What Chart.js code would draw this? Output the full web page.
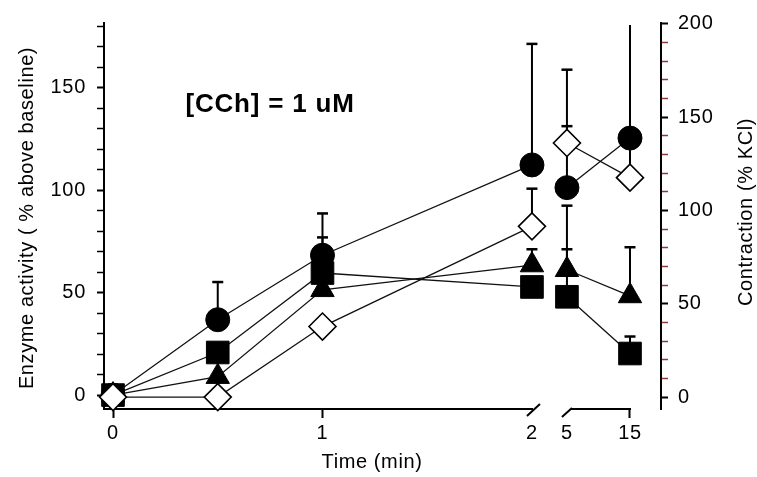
<!DOCTYPE html>
<html>
<head>
<meta charset="utf-8">
<script src="https://cdn.jsdelivr.net/npm/chart.js@4.4.1/dist/chart.umd.min.js"></script>
<style>
html,body{margin:0;padding:0;background:#fff;}
canvas{display:block;}
</style>
</head>
<body>
<canvas id="c" width="757" height="477"></canvas>
<script>
// ---------------- data ----------------
const times = [0, 0.5, 1, 2, 5, 15];            // minutes
const tickTimes = [0, 1, 2, 5, 15];
const tickLabels = ['0', '1', '2', '5', '15'];

// Enzyme activity (% above baseline), left axis
const circleMean    = [0, 36.8, 68.3, 112.4, 101.3, 125.5];
const circleUpper   = [null, 55.2, 88.7, 171.5, 158.9, 200];
const squareMean    = [0, 20.8, 59.6, 52.8, 48.0, 20.3];
const squareUpper   = [null, null, 77.0, null, 71.2, 28.6];
const triangleMean  = [0, 9.0, 51.4, 63.5, 61.2, 48.4];
const triangleUpper = [null, null, null, 71.2, 92.5, 72.2];
// Contraction (% KCl), right axis
const diamondMean   = [0, 0, 37.8, 91.5, 136.2, 117.6];
const diamondUpper  = [null, null, null, 111.7, 145.2, 139.0];

const annotationText = '[CCh] = 1 uM';
const leftTitle = 'Enzyme activity ( % above baseline)';
const rightTitle = 'Contraction (% KCl)';
const xTitle = 'Time (min)';

// ---------------- broken time axis ----------------
const BREAK_FROM = 2, BREAK_TO = 5, AFTER_START = 2.167, AFTER_SCALE = 0.0301;
function axisPos(t) {
  return t <= BREAK_FROM ? t : AFTER_START + (t - BREAK_TO) * AFTER_SCALE;
}
function points(means) {
  return times.map((t, i) => ({ x: axisPos(t), y: means[i] }));
}

const FONT = '"Liberation Sans", Arial, sans-serif';
const crossesBreak = ctx => ctx.p0.parsed.x <= axisPos(BREAK_FROM) + 1e-6 && ctx.p1.parsed.x >= axisPos(BREAK_TO) - 1e-6;

function makeSet(label, means, upper, axis, style, radius, fill, bw) {
  return {
    label, data: points(means), upper, yAxisID: axis,
    borderColor: '#111', borderWidth: 1.3,
    pointStyle: style, pointRadius: radius, pointHoverRadius: radius,
    pointBackgroundColor: fill, pointBorderColor: '#000', pointBorderWidth: bw,
    fill: false, tension: 0, clip: false,
    segment: { borderColor: ctx => crossesBreak(ctx) ? 'rgba(0,0,0,0)' : '#111' }
  };
}

const datasets = [
  makeSet('Contraction', diamondMean, diamondUpper, 'yR', 'rectRot', 13.5, '#fff', 1.6),
  makeSet('Enzyme (circle)', circleMean, circleUpper, 'y', 'circle', 12, '#000', 1),
  makeSet('Enzyme (square)', squareMean, squareUpper, 'y', 'rect', 16, '#000', 1),
  makeSet('Enzyme (triangle)', triangleMean, triangleUpper, 'y', 'triangle', 13.5, '#000', 1)
];

const decor = {
  id: 'decor',
  beforeDraw(chart) {
    chart.ctx.letterSpacing = '0.7px';
  },
  beforeDatasetsDraw(chart) {
    const ctx = chart.ctx, xs = chart.scales.x, area = chart.chartArea;
    ctx.save();
    // error bars (upper only)
    chart.data.datasets.forEach(ds => {
      const ys = chart.scales[ds.yAxisID];
      ds.upper.forEach((u, i) => {
        if (u === null) return;
        const px = xs.getPixelForValue(axisPos(times[i]));
        const y0 = ys.getPixelForValue(ds.data[i].y);
        let y1 = ys.getPixelForValue(u);
        const clipped = y1 < area.top;
        if (clipped) y1 = area.top + 2;
        ctx.strokeStyle = '#000';
        ctx.lineWidth = 2;
        ctx.beginPath(); ctx.moveTo(px, y0); ctx.lineTo(px, y1); ctx.stroke();
        if (!clipped) {
          ctx.lineWidth = 2.5;
          ctx.beginPath(); ctx.moveTo(px - 5.5, y1); ctx.lineTo(px + 5.5, y1); ctx.stroke();
        }
      });
    });
    // broken x axis line
    const y = area.bottom;
    const x2 = xs.getPixelForValue(axisPos(BREAK_FROM));
    const x5 = xs.getPixelForValue(axisPos(BREAK_TO));
    const x15 = xs.getPixelForValue(axisPos(tickTimes[tickTimes.length - 1]));
    ctx.strokeStyle = '#000';
    ctx.lineWidth = 2;
    ctx.beginPath();
    ctx.moveTo(area.left - 1, y); ctx.lineTo(x2 + 1, y);
    ctx.moveTo(x2 - 5, y + 7); ctx.lineTo(x2 + 8, y - 5);
    ctx.moveTo(x5 - 5, y + 8); ctx.lineTo(x5 + 5, y - 1);
    ctx.moveTo(x5 + 4, y); ctx.lineTo(x15 + 1, y);
    ctx.stroke();
    ctx.restore();
  },
  afterDraw(chart) {
    const ctx = chart.ctx, xs = chart.scales.x, ys = chart.scales.y;
    ctx.save();
    ctx.fillStyle = '#000';
    ctx.letterSpacing = '0.6px';
    ctx.textAlign = 'center';
    ctx.textBaseline = 'middle';
    ctx.font = '20px ' + FONT;
    // x title
    ctx.fillText(xTitle, 372, 462);
    // left title
    ctx.save(); ctx.translate(27, 218); ctx.rotate(-Math.PI / 2);
    ctx.fillText(leftTitle, 0, 0); ctx.restore();
    // right title
    ctx.save(); ctx.translate(746, 212); ctx.rotate(-Math.PI / 2);
    ctx.fillText(rightTitle, 0, 0); ctx.restore();
    // annotation
    ctx.letterSpacing = '0.8px';
    ctx.font = 'bold 26px ' + FONT;
    ctx.fillText(annotationText, xs.getPixelForValue(0.75), ys.getPixelForValue(141.5));
    ctx.restore();
  }
};

new Chart(document.getElementById('c'), {
  type: 'line',
  data: { datasets },
  plugins: [decor],
  options: {
    responsive: false,
    animation: false,
    devicePixelRatio: 1,
    layout: { padding: { top: 21, left: 0, right: 0, bottom: 0 } },
    plugins: { legend: { display: false }, tooltip: { enabled: false } },
    scales: {
      x: {
        type: 'linear', position: 'bottom',
        min: -0.043, max: 2.616,
        afterBuildTicks: s => { s.ticks = tickTimes.map(t => ({ value: axisPos(t) })); },
        afterFit: s => { s.height = 68; },
        ticks: {
          autoSkip: false, maxRotation: 0, padding: 3, color: '#000',
          font: { family: FONT, size: 20 },
          callback: (v, i) => tickLabels[i]
        },
        grid: {
          drawOnChartArea: false, drawTicks: true, tickLength: 9, tickWidth: 2,
          tickColor: c => (tickTimes[c.index] === BREAK_FROM || tickTimes[c.index] === BREAK_TO) ? 'rgba(0,0,0,0)' : '#000'
        },
        border: { display: false }
      },
      y: {
        position: 'left', min: -6.8, max: 181.7,
        afterFit: s => { s.width = 104; },
        ticks: {
          stepSize: 10, includeBounds: false, autoSkip: false, padding: 11, color: '#000',
          font: { family: FONT, size: 20 },
          callback: v => (v % 50 === 0 ? String(v) : '')
        },
        grid: {
          drawOnChartArea: false, tickLength: 7,
          tickWidth: c => (c.tick && c.tick.value % 50 === 0 ? 2 : 1.5),
          tickColor: '#000'
        },
        border: { display: true, color: '#000', width: 2 }
      },
      yR: {
        position: 'right', min: -6.4, max: 200.5,
        afterFit: s => { s.width = 96; },
        ticks: {
          stepSize: 10, includeBounds: false, autoSkip: false, padding: 10, color: '#000',
          font: { family: FONT, size: 20 },
          callback: v => (v % 50 === 0 ? String(v) : '')
        },
        grid: {
          drawOnChartArea: false, tickLength: 7,
          tickWidth: c => (c.tick && c.tick.value % 50 === 0 ? 2 : 1.5),
          tickColor: c => (c.tick && c.tick.value % 50 === 0 ? '#000' : '#8a3a3a')
        },
        border: { display: true, color: '#000', width: 2 }
      }
    }
  }
});
</script>
</body>
</html>
